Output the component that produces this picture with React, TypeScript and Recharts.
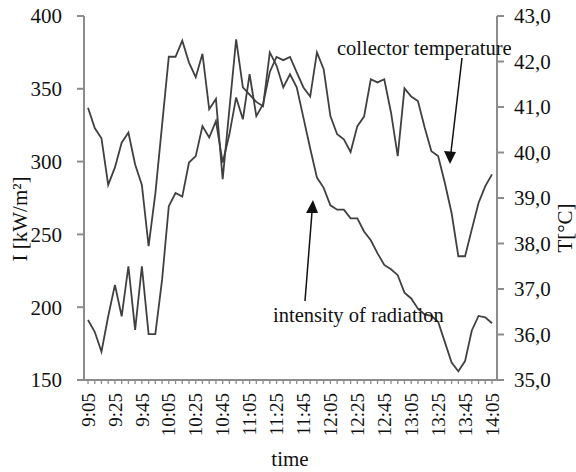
import React from 'react';
import { LineChart, Line, XAxis, YAxis } from 'recharts';

const times = [
  '9:05','9:10','9:15','9:20','9:25','9:30','9:35','9:40','9:45','9:50',
  '9:55','10:00','10:05','10:10','10:15','10:20','10:25','10:30','10:35','10:40',
  '10:45','10:50','10:55','11:00','11:05','11:10','11:15','11:20','11:25','11:30',
  '11:35','11:40','11:45','11:50','11:55','12:00','12:05','12:10','12:15','12:20',
  '12:25','12:30','12:35','12:40','12:45','12:50','12:55','13:00','13:05','13:10',
  '13:15','13:20','13:25','13:30','13:35','13:40','13:45','13:50','13:55','14:00',
  '14:05',
];

const intensity = [
  337, 323, 316, 284, 296, 313, 320, 298, 284, 242,
  278, 325, 372, 372, 383, 368, 358, 374, 336, 343,
  288, 336, 384, 351, 346, 341, 338, 375, 366, 351,
  360, 351, 330, 309, 289, 282, 270, 267, 267, 261,
  261, 252, 246, 237, 229, 226, 222, 210, 206, 199,
  195, 194, 190, 176, 162, 156, 163, 184, 194, 193,
  189,
];

const temperature = [
  36.32, 36.06, 35.62, 36.40, 37.09, 36.40, 37.50, 36.10, 37.50, 36.01,
  36.01, 37.20, 38.82, 39.11, 39.03, 39.78, 39.92, 40.58, 40.33, 40.69,
  39.78, 40.40, 41.21, 40.73, 41.72, 40.80, 41.06, 41.77, 42.10, 42.03,
  42.10, 41.76, 41.43, 41.23, 42.20, 41.83, 40.80, 40.40, 40.29, 40.01,
  40.58, 40.79, 41.61, 41.54, 41.61, 40.88, 39.92, 41.41, 41.23, 41.13,
  40.55, 40.03, 39.92, 39.33, 38.67, 37.72, 37.72, 38.31, 38.89, 39.26,
  39.52,
];

const leftTicks = [150, 200, 250, 300, 350, 400];
const rightTicks = [35, 36, 37, 38, 39, 40, 41, 42, 43];

const data = times.map((t, i) => ({ time: t, I: intensity[i], T: temperature[i] }));

const FONT = '"Liberation Serif", "Times New Roman", serif';
const AXIS = '#8c8c8c';
const LINE = '#404040';

const XTick = (props: any) => {
  const { x, y, index, payload } = props;
  const idx = typeof index === 'number' ? index : payload.index;
  return (
    <g>
      <line x1={x} y1={y} x2={x} y2={y + 4} stroke={AXIS} strokeWidth={1.3} />
      {idx % 4 === 0 && (
        <text
          x={x}
          y={y + 13}
          transform={`rotate(-90 ${x} ${y + 13})`}
          textAnchor="end"
          dy="0.35em"
          fontFamily={FONT}
          fontSize={19}
          fill="#111"
        >
          {payload.value}
        </text>
      )}
    </g>
  );
};

const LeftTick = (props: any) => {
  const { x, y, payload } = props;
  return (
    <text x={x} y={y} dy="0.35em" textAnchor="end" fontFamily={FONT} fontSize={21} fill="#111">
      {payload.value}
    </text>
  );
};

const RightTick = (props: any) => {
  const { x, y, payload } = props;
  return (
    <text x={x} y={y} dy="0.35em" textAnchor="start" fontFamily={FONT} fontSize={21} fill="#111">
      {Number(payload.value).toFixed(1).replace('.', ',')}
    </text>
  );
};

export default function App() {
  return (
    <div style={{ position: 'absolute', left: 0, top: 0, width: 576, height: 472, background: '#fff' }}>
      <LineChart
        width={576}
        height={472}
        data={data}
        margin={{ top: 16, right: 19, bottom: 22, left: 14 }}
        style={{ fontFamily: FONT }}
      >
        <XAxis
          dataKey="time"
          interval={0}
          tick={<XTick />}
          tickLine={false}
          tickSize={0}
          tickMargin={0}
          height={70}
          padding={{ left: 4, right: 5 }}
          axisLine={{ stroke: AXIS, strokeWidth: 2 }}
        />
        <YAxis
          yAxisId="left"
          domain={[150, 400]}
          ticks={leftTicks}
          width={70}
          tickSize={7}
          tickMargin={15}
          axisLine={{ stroke: AXIS, strokeWidth: 2 }}
          tickLine={{ stroke: AXIS, strokeWidth: 2 }}
          tick={<LeftTick />}
        />
        <YAxis
          yAxisId="right"
          orientation="right"
          domain={[35, 43]}
          ticks={rightTicks}
          width={60}
          tickSize={7}
          tickMargin={10}
          axisLine={{ stroke: AXIS, strokeWidth: 2 }}
          tickLine={{ stroke: AXIS, strokeWidth: 2 }}
          tick={<RightTick />}
        />
        <Line
          yAxisId="left"
          dataKey="I"
          stroke={LINE}
          strokeWidth={1.8}
          dot={false}
          isAnimationActive={false}
        />
        <Line
          yAxisId="right"
          dataKey="T"
          stroke={LINE}
          strokeWidth={1.8}
          dot={false}
          isAnimationActive={false}
        />
      </LineChart>
      <svg
        width={576}
        height={472}
        style={{ position: 'absolute', left: 0, top: 0, pointerEvents: 'none' }}
      >
        <text x={290} y={466} textAnchor="middle" fontFamily={FONT} fontSize={21} fill="#111">time</text>
        <text
          x={20}
          y={219}
          transform="rotate(-90 20 219)"
          textAnchor="middle"
          dy="0.35em"
          fontFamily={FONT}
          fontSize={21}
          fill="#111"
        >
          I [kW/m²]
        </text>
        <text
          x={565}
          y={228}
          transform="rotate(-90 565 228)"
          textAnchor="middle"
          dy="0.35em"
          fontFamily={FONT}
          fontSize={21}
          fill="#111"
        >
          T[°C]
        </text>
        <text x={337} y={55} fontFamily={FONT} fontSize={20.5} fill="#111">collector temperature</text>
        <text x={273} y={322} fontFamily={FONT} fontSize={20.5} fill="#111">intensity of radiation</text>
        <line x1={462} y1={58} x2={451} y2={152} stroke="#111" strokeWidth={1.5} />
        <polygon points="444,151 456,152 450,164" fill="#111" />
        <line x1={305} y1={301} x2={312} y2={212} stroke="#111" strokeWidth={1.5} />
        <polygon points="306,213 318,213 313,200" fill="#111" />
      </svg>
    </div>
  );
}
